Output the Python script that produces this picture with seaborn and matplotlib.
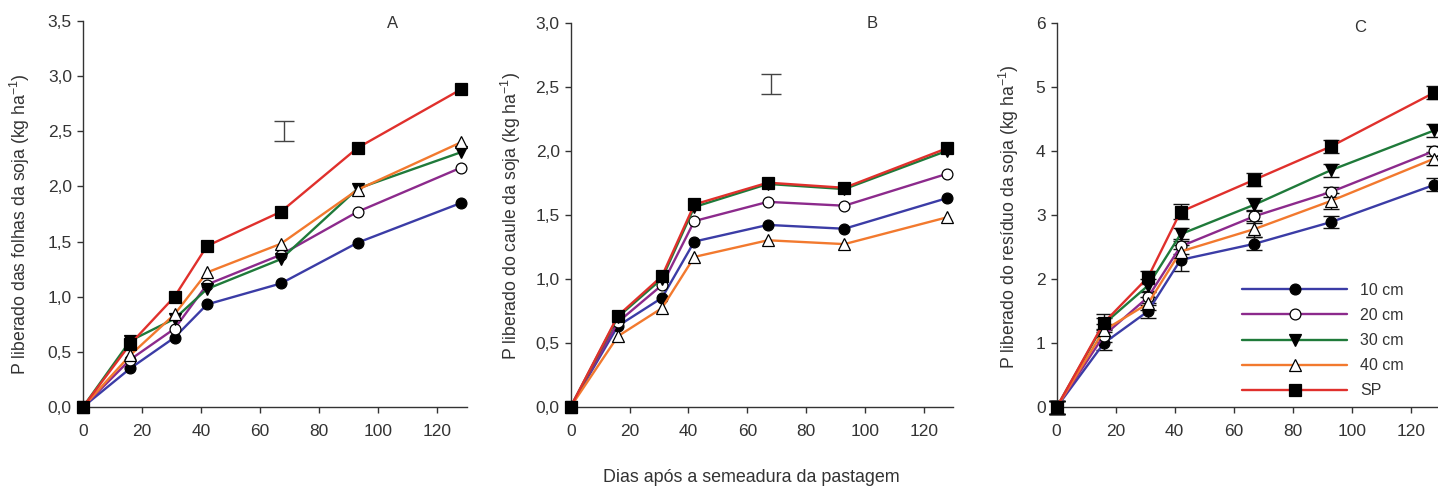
import numpy as np
import pandas as pd
import matplotlib
matplotlib.use("Agg")
import matplotlib.pyplot as plt
import seaborn as sns
from matplotlib.ticker import FuncFormatter

# ---------------- data ----------------
dias = [0, 16, 31, 42, 67, 93, 128]
tratamentos = ["10 cm", "20 cm", "30 cm", "40 cm", "SP"]

folhas_10 = [0.0, 0.35, 0.63, 0.93, 1.12, 1.49, 1.85]
folhas_20 = [0.0, 0.43, 0.71, 1.11, 1.38, 1.77, 2.17]
folhas_30 = [0.0, 0.60, 0.80, 1.07, 1.34, 1.98, 2.31]
folhas_40 = [0.0, 0.47, 0.84, 1.22, 1.48, 1.97, 2.40]
folhas_SP = [0.0, 0.57, 1.00, 1.46, 1.77, 2.35, 2.88]

caule_10 = [0.0, 0.63, 0.85, 1.29, 1.42, 1.39, 1.63]
caule_20 = [0.0, 0.66, 0.95, 1.45, 1.60, 1.57, 1.82]
caule_30 = [0.0, 0.70, 1.00, 1.56, 1.74, 1.70, 2.00]
caule_40 = [0.0, 0.55, 0.77, 1.17, 1.30, 1.27, 1.48]
caule_SP = [0.0, 0.71, 1.02, 1.58, 1.75, 1.71, 2.02]

residuo_10 = [0.0, 1.00, 1.50, 2.30, 2.55, 2.89, 3.47]
residuo_20 = [0.0, 1.12, 1.72, 2.51, 2.98, 3.36, 4.00]
residuo_30 = [0.0, 1.30, 1.90, 2.70, 3.16, 3.70, 4.32]
residuo_40 = [0.0, 1.20, 1.62, 2.43, 2.78, 3.22, 3.88]
residuo_SP = [0.0, 1.32, 2.03, 3.05, 3.55, 4.07, 4.91]

erro_10 = [0.10, 0.10, 0.10, 0.17, 0.10, 0.09, 0.10]
erro_20 = [0.10, 0.10, 0.10, 0.12, 0.10, 0.08, 0.08]
erro_30 = [0.10, 0.10, 0.10, 0.10, 0.10, 0.10, 0.10]
erro_40 = [0.10, 0.10, 0.10, 0.10, 0.12, 0.12, 0.10]
erro_SP = [0.10, 0.14, 0.10, 0.12, 0.10, 0.10, 0.10]

# LSD bars (x, y centre, half height)
dms_A = (68, 2.505, 0.09)
dms_B = (68, 2.52, 0.08)

# ---------------- style ----------------
W, H = 1438, 488
sns.set_style("ticks")
plt.rcParams["font.family"] = ["Liberation Sans", "DejaVu Sans"]
plt.rcParams["mathtext.fontset"] = "custom"
plt.rcParams["mathtext.rm"] = "Liberation Sans"

TXT = "#333333"
colors = ["#3b3ca6", "#8c2a8c", "#1f7a3a", "#f2792e", "#e0302c"]
markers = ["o", "o", "v", "^", "s"]
faces = ["black", "white", "black", "white", "black"]
msizes = [7.8, 7.8, 8.3, 8.3, 8.3]

fig = plt.figure(figsize=(W / 100, H / 100), dpi=100)

def px(x, y):
    return x / W, 1 - y / H

axA = fig.add_axes([0.0577, 0.166, 0.267, 0.791])
axB = fig.add_axes([0.3969, 0.1666, 0.266, 0.787])
axC = fig.add_axes([0.7348, 0.1654, 0.2667, 0.788])

panels = [
    (axA, [folhas_10, folhas_20, folhas_30, folhas_40, folhas_SP], 3.5, 0.5),
    (axB, [caule_10, caule_20, caule_30, caule_40, caule_SP], 3.0, 0.5),
    (axC, [residuo_10, residuo_20, residuo_30, residuo_40, residuo_SP], 6, 1),
]
erros = [erro_10, erro_20, erro_30, erro_40, erro_SP]

for pi, (ax, series, ymax, ystep) in enumerate(panels):
    for i, vals in enumerate(series):
        df = pd.DataFrame({"dias": dias, "P": vals})
        if pi == 2:
            ax.errorbar(dias, vals, yerr=erros[i], fmt="none", ecolor="#111111",
                        elinewidth=1.0, capsize=5.5, capthick=1.0, zorder=2 + i * 0.1,
                        clip_on=False)
        sns.lineplot(data=df, x="dias", y="P", ax=ax, color=colors[i],
                     marker=markers[i], markersize=msizes[i],
                     markerfacecolor=faces[i], markeredgecolor="black",
                     markeredgewidth=0.9, linewidth=1.7, clip_on=False,
                     label=tratamentos[i] if pi == 2 else None,
                     legend=(pi == 2), zorder=3 + i * 0.1)
    ax.set_xlim(0, 130)
    ax.set_ylim(0, ymax)
    ax.set_xticks(np.arange(0, 121, 20))
    ax.set_yticks(np.arange(0, ymax + 1e-9, ystep))
    if ystep < 1:
        ax.yaxis.set_major_formatter(FuncFormatter(lambda v, p: f"{v:.1f}".replace(".", ",")))
    else:
        ax.yaxis.set_major_formatter(FuncFormatter(lambda v, p: f"{int(round(v))}"))
    ax.set_xlabel("")
    ax.set_ylabel("")
    sns.despine(ax=ax)
    for s in ["left", "bottom"]:
        ax.spines[s].set_color(TXT)
        ax.spines[s].set_linewidth(1.0)
    ax.tick_params(axis="x", direction="out", length=4.3, width=1.0, color=TXT,
                   labelcolor=TXT, labelsize=12.5, pad=8)
    ax.tick_params(axis="y", direction="out", length=4.5, width=1.0, color=TXT,
                   labelcolor=TXT, labelsize=12.5, pad=3.5)

for ax, d in [(axA, dms_A), (axB, dms_B)]:
    ax.errorbar([d[0]], [d[1]], yerr=[d[2]], fmt="none", ecolor="#444444",
                elinewidth=1.0, capsize=7, capthick=1.0)

# legend
handles, labels = axC.get_legend_handles_labels()
leg = axC.legend(handles, labels, loc="upper left",
                 bbox_to_anchor=px(1242, 283), bbox_transform=fig.transFigure,
                 frameon=False, handlelength=6.6, handletextpad=0.8,
                 labelspacing=0.63, borderpad=0, borderaxespad=0,
                 prop={"size": 11.5})
for t in leg.get_texts():
    t.set_color(TXT)

# panel letters
for (x, y), s in [((393, 23), "A"), ((872, 23), "B"), ((1360, 27), "C")]:
    fig.text(*px(x, y), s, ha="center", va="center", fontsize=12, color=TXT)

# y labels
ylabs = [((19.5, 224), "P liberado das folhas da soja (kg ha$^{-1}$)"),
         ((511, 216), "P liberado do caule da soja (kg ha$^{-1}$)"),
         ((1009, 217), "P liberado do resíduo da soja (kg ha$^{-1}$)")]
for (x, y), s in ylabs:
    fig.text(*px(x, y), s, rotation=90, ha="center", va="center",
             fontsize=12.7, color=TXT)

fig.text(*px(751, 477), "Dias após a semeadura da pastagem", ha="center",
         va="center", fontsize=12.9, color=TXT)

fig.savefig("out.png", dpi=100)
